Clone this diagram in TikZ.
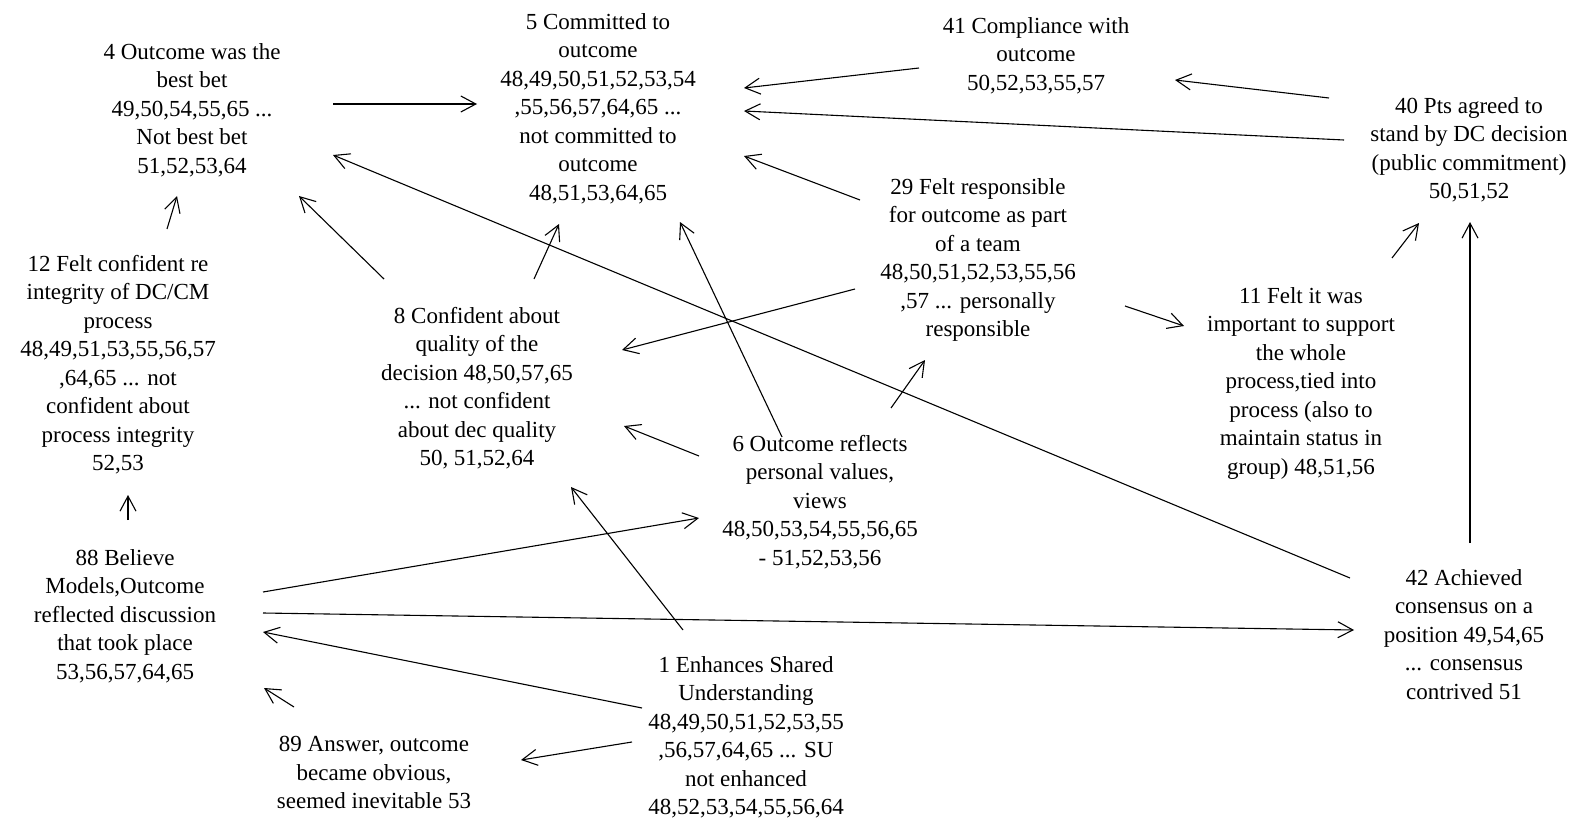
\documentclass[tikz,border=0pt]{standalone}
\usepackage{fontspec}
\setmainfont{Liberation Serif}
\usetikzlibrary{arrows.meta}
\tikzset{
  lbl/.style={anchor=north, align=center, inner sep=0pt, font=\fontsize{23}{28.5}\selectfont},
  conn/.style={line width=1.1pt, -{Straight Barb[length=15pt,width=16pt,line width=1.1pt]}},
}
\begin{document}
\begin{tikzpicture}[x=1pt,y=-1pt]
\useasboundingbox[fill=white] (0,0) rectangle (1573,821);
% nodes
\node[lbl] (n4) at (192,43) {4 Outcome was the\\best bet\\49,50,54,55,65 ...\\Not best bet\\51,52,53,64};
\node[lbl] (n5) at (598,13) {5 Committed to\\outcome\\48,49,50,51,52,53,54\\,55,56,57,64,65 ...\\not committed to\\outcome\\48,51,53,64,65};
\node[lbl] (n41) at (1036,17) {41 Compliance with\\outcome\\50,52,53,55,57};
\node[lbl] (n40) at (1469,97) {40 Pts agreed to\\stand by DC decision\\(public commitment)\\50,51,52};
\node[lbl] (n12) at (118,255) {12 Felt confident re\\integrity of DC/CM\\process\\48,49,51,53,55,56,57\\,64,65 ... not\\confident about\\process integrity\\52,53};
\node[lbl] (n8) at (477,307) {8 Confident about\\quality of the\\decision 48,50,57,65\\... not confident\\about dec quality\\50, 51,52,64};
\node[lbl] (n29) at (978,178) {29 Felt responsible\\for outcome as part\\of a team\\48,50,51,52,53,55,56\\,57 ... personally\\responsible};
\node[lbl] (n11) at (1301,287) {11 Felt it was\\important to support\\the whole\\process,tied into\\process (also to\\maintain status in\\group) 48,51,56};
\node[lbl] (n6) at (820,435) {6 Outcome reflects\\personal values,\\views\\48,50,53,54,55,56,65\\- 51,52,53,56};
\node[lbl] (n88) at (125,549) {88 Believe\\Models,Outcome\\reflected discussion\\that took place\\53,56,57,64,65};
\node[lbl] (n42) at (1464,569) {42 Achieved\\consensus on a\\position 49,54,65\\... consensus\\contrived 51};
\node[lbl] (n1) at (746,656) {1 Enhances Shared\\Understanding\\48,49,50,51,52,53,55\\,56,57,64,65 ... SU\\not enhanced\\48,52,53,54,55,56,64};
\node[lbl] (n89) at (374,736) {89 Answer, outcome\\became obvious,\\seemed inevitable 53};
% connector end points
\coordinate (a4s) at (333,104);   \coordinate (a4e) at (477,104);
\coordinate (a41s) at (919,68);   \coordinate (a41e) at (744,88);
\coordinate (a40s) at (1344,140); \coordinate (a40e) at (744,111);
\coordinate (a40b) at (1329,98);  \coordinate (a40be) at (1175,80);
\coordinate (a29s) at (860,200);  \coordinate (a29e) at (744,156);
\coordinate (a12s) at (167,229);  \coordinate (a12e) at (177,196);
\coordinate (a8s) at (384,279);   \coordinate (a8e) at (299,196);
\coordinate (a8b) at (534,279);   \coordinate (a8be) at (559,224);
\coordinate (a42s) at (1350,578); \coordinate (a42e) at (333,155);
\coordinate (a29b) at (855,289);  \coordinate (a29be) at (622,350);
\coordinate (a6s) at (782,437);   \coordinate (a6e) at (680,222);
\coordinate (a6b) at (699,456);   \coordinate (a6be) at (624,426);
\coordinate (a6c) at (891,408);   \coordinate (a6ce) at (925,360);
\coordinate (a29c) at (1125,306); \coordinate (a29ce) at (1184,326);
\coordinate (a11s) at (1392,258); \coordinate (a11e) at (1419,223);
\coordinate (a42b) at (1470,543); \coordinate (a42be) at (1470,222);
\coordinate (a88s) at (128,520);  \coordinate (a88e) at (128,495);
\coordinate (a88b) at (263,592);  \coordinate (a88be) at (699,518);
\coordinate (a88c) at (263,613);  \coordinate (a88ce) at (1354,630);
\coordinate (a1s) at (683,630);   \coordinate (a1e) at (571,487);
\coordinate (a1b) at (642,708);   \coordinate (a1be) at (263,632);
\coordinate (a89s) at (294,707);  \coordinate (a89e) at (264,688);
\coordinate (a1c) at (632,742);   \coordinate (a1ce) at (521,760);
% connectors
\draw[conn] (a4s) -- (a4e);
\draw[conn] (a41s) -- (a41e);
\draw[conn] (a40s) -- (a40e);
\draw[conn] (a40b) -- (a40be);
\draw[conn] (a29s) -- (a29e);
\draw[conn] (a12s) -- (a12e);
\draw[conn] (a8s) -- (a8e);
\draw[conn] (a8b) -- (a8be);
\draw[conn] (a42s) -- (a42e);
\draw[conn] (a29b) -- (a29be);
\draw[conn] (a6s) -- (a6e);
\draw[conn] (a6b) -- (a6be);
\draw[conn] (a6c) -- (a6ce);
\draw[conn] (a29c) -- (a29ce);
\draw[conn] (a11s) -- (a11e);
\draw[conn] (a42b) -- (a42be);
\draw[conn] (a88s) -- (a88e);
\draw[conn] (a88b) -- (a88be);
\draw[conn] (a88c) -- (a88ce);
\draw[conn] (a1s) -- (a1e);
\draw[conn] (a1b) -- (a1be);
\draw[conn] (a89s) -- (a89e);
\draw[conn] (a1c) -- (a1ce);
\end{tikzpicture}
\end{document}
